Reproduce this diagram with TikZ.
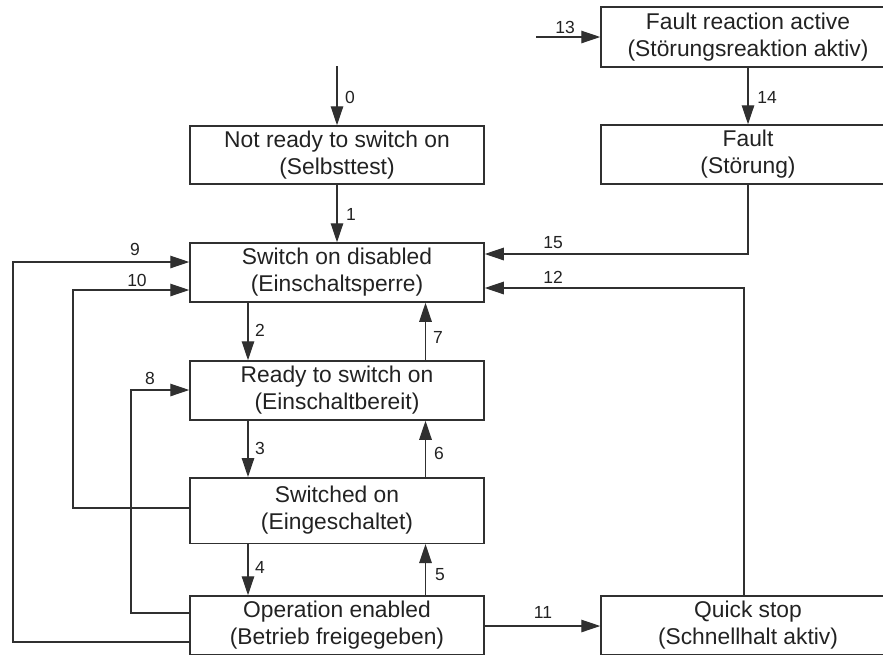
\documentclass[tikz,border=0pt]{standalone}
\usepackage{fontspec}
\setmainfont{Liberation Sans}
\usetikzlibrary{arrows.meta}
\definecolor{ink}{HTML}{222222}
\definecolor{edge}{HTML}{303030}
\begin{document}
\begin{tikzpicture}[x=1pt,y=-1pt,
  state/.style={draw=edge, line width=1.5pt, minimum width=294pt, minimum height=59pt,
    inner sep=0pt, align=center, font=\fontsize{22.8}{27}\selectfont, text=ink},
  arr/.style={draw=edge, line width=1.3pt, -{Triangle[length=19pt,width=12.5pt]}},
  num/.style={font=\fontsize{17.5}{20}\selectfont, text=ink, inner sep=0pt}]
\useasboundingbox (0,0) rectangle (883,654);
\clip (0,0) rectangle (883,654);

% states
\node[state, minimum height=60pt] (fra) at (748,37) {Fault reaction active\\(Störungsreaktion aktiv)};
\node[state] (fault) at (748,154.5) {Fault\\(Störung)};
\node[state, minimum height=58pt] (nrdy) at (337,155) {Not ready to switch on\\(Selbsttest)};
\node[state] (sod) at (337,272.5) {Switch on disabled\\(Einschaltsperre)};
\node[state] (rdy) at (337,390.5) {Ready to switch on\\(Einschaltbereit)};
\node[state, minimum height=65.5pt] (son) at (337,510.5) {Switched on\\(Eingeschaltet)};
\node[state] (op) at (337,625.5) {Operation enabled\\(Betrieb freigegeben)};
\node[state] (qs) at (748,625.5) {Quick stop\\(Schnellhalt aktiv)};

% helper points for the transition routes
\coordinate (s13) at (536,37);
\coordinate (s0) at (337,66);
\coordinate (xl) at (248,0);
\coordinate (xr) at (425.5,0);
\coordinate (k9a) at (13,642);
\coordinate (k9b) at (13,262);
\coordinate (k10a) at (73,508);
\coordinate (k10b) at (73,290);
\coordinate (k8a) at (131,613);
\coordinate (k8b) at (131,390);
\coordinate (k15) at (748,254);
\coordinate (k12) at (744,288);
\coordinate (k11) at (0,626);

% transitions
\draw[arr] (s13) -- (fra.west);
\draw[arr] (fra.south) -- (fault.north);
\draw[arr] (s0) -- (nrdy.north);
\draw[arr] (nrdy.south) -- (sod.north);
\draw[arr] (sod.south -| xl) -- (rdy.north -| xl);
\draw[arr] (rdy.south -| xl) -- (son.north -| xl);
\draw[arr] (son.south -| xl) -- (op.north -| xl);
\draw[arr] (op.north -| xr) -- (son.south -| xr);
\draw[arr] (son.north -| xr) -- (rdy.south -| xr);
\draw[arr] (rdy.north -| xr) -- (sod.south -| xr);
\draw[arr] (op.west |- k9a) -- (k9a) -- (k9b) -- (sod.west |- k9b);
\draw[arr] (son.west |- k10a) -- (k10a) -- (k10b) -- (sod.west |- k10b);
\draw[arr] (op.west |- k8a) -- (k8a) -- (k8b) -- (rdy.west |- k8b);
\draw[arr] (fault.south) -- (k15) -- (sod.east |- k15);
\draw[arr] (qs.north -| k12) -- (k12) -- (sod.east |- k12);
\draw[arr] (op.east |- k11) -- (qs.west |- k11);

% transition numbers
\node[num] (n0) at (350,97) {0};
\node[num] (n1) at (351,214) {1};
\node[num] (n2) at (260,330) {2};
\node[num] (n3) at (260,448) {3};
\node[num] (n4) at (260,567) {4};
\node[num] (n5) at (440,575) {5};
\node[num] (n6) at (439,453) {6};
\node[num] (n7) at (438,337) {7};
\node[num] (n8) at (150,378) {8};
\node[num] (n9) at (135,249) {9};
\node[num] (n10) at (137,280) {10};
\node[num] (n11) at (543,612) {11};
\node[num] (n12) at (553,277) {12};
\node[num] (n13) at (565,27) {13};
\node[num] (n14) at (767,97) {14};
\node[num] (n15) at (553,243) {15};
\end{tikzpicture}
\end{document}
